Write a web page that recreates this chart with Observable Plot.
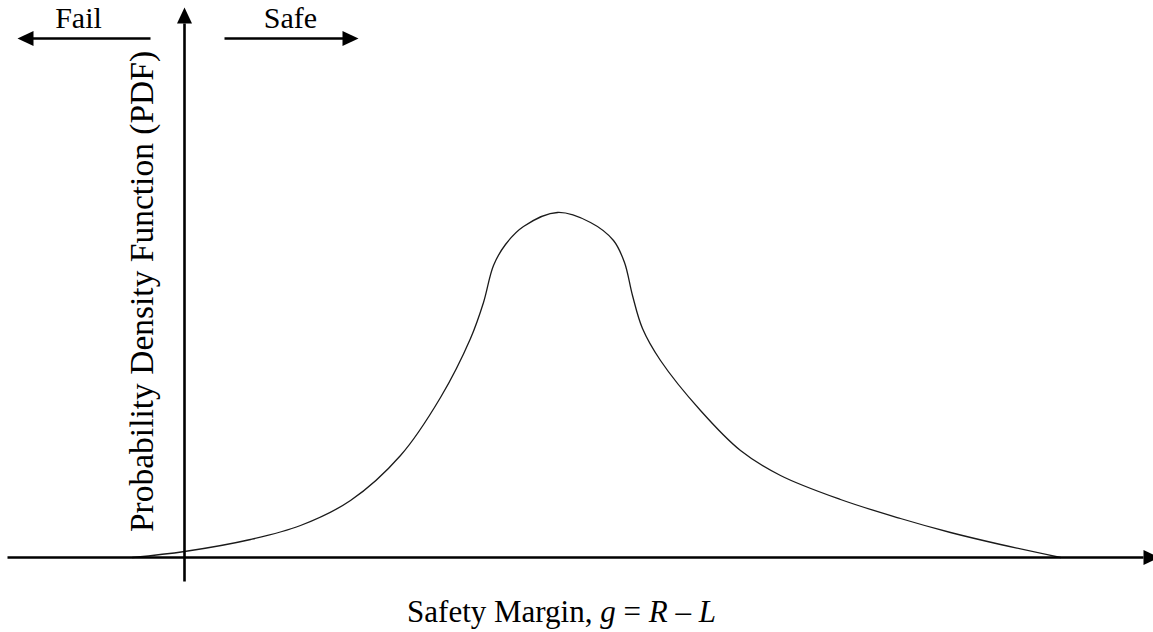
<!DOCTYPE html>
<html>
<head>
<meta charset="utf-8">
<script src="https://cdn.jsdelivr.net/npm/d3@7"></script>
<script src="https://cdn.jsdelivr.net/npm/@observablehq/plot@0.6"></script>
<style>
  body { margin: 0; background: #fff; }
  #wrap { position: relative; width: 1153px; height: 632px; overflow: hidden; }
  #xlabel {
    position: absolute; left: -15px; width: 1153px; top: 596px;
    text-align: center; white-space: pre;
    font-family: "Liberation Serif", "Times New Roman", serif;
    font-size: 31px; line-height: 31px; color: #000;
  }
</style>
</head>
<body>
<div id="wrap"><div id="chart"></div><div id="xlabel">Safety Margin, <i>g</i> = <i>R</i> – <i>L</i></div></div>
<script>
// Safety margin values (arbitrary units) and probability density
const marginG = [-0.52, 0, 0.66, 1.16, 1.66, 2.16, 2.56, 2.86, 2.99, 3.09, 3.21, 3.39, 3.73,
                 4.06, 4.29, 4.40, 4.48, 4.58, 4.76, 5.16, 5.56, 5.96, 6.56, 7.16, 7.66, 8.16, 8.76];
const densityPdf = [0, 0.006, 0.018, 0.032, 0.057, 0.102, 0.160, 0.219, 0.255, 0.292, 0.313, 0.331, 0.345,
                    0.335, 0.317, 0.295, 0.262, 0.229, 0.197, 0.147, 0.107, 0.082, 0.058, 0.039, 0.025, 0.013, 0];

// Axis extents (data units)
const xAxisSpan = [-1.77, 9.59];
const xAxisTip = 9.75;
const yAxisSpan = [-0.024, 0.534];
const yAxisTip = 0.550;

// Fail / Safe direction arrows (data units)
const dirLevel = 0.519;
const failSpan = [-0.34, -1.52];
const failTip = -1.67;
const safeSpan = [0.40, 1.59];
const safeTip = 1.74;

const sideLabels = ["Fail", "Safe"];
const sideLabelX = [-1.06, 1.06];
const sideLabelY = 0.530;
const yLabel = "Probability Density Function (PDF)";
const yLabelPos = [-0.32, 0.266];

const curve = marginG.map((g, i) => ({g, pdf: densityPdf[i]}));
const lines = [
  {x1: xAxisSpan[0], y1: 0, x2: xAxisSpan[1], y2: 0},
  {x1: 0, y1: yAxisSpan[0], x2: 0, y2: yAxisSpan[1]},
  {x1: failSpan[0], y1: dirLevel, x2: failSpan[1], y2: dirLevel},
  {x1: safeSpan[0], y1: dirLevel, x2: safeSpan[1], y2: dirLevel}
];
const heads = [
  {x: xAxisTip, y: 0, rot: 90},
  {x: 0, y: yAxisTip, rot: 0},
  {x: failTip, y: dirLevel, rot: -90},
  {x: safeTip, y: dirLevel, rot: 90}
];
const arrowHead = {
  draw(context) {
    const w = 7.5, l = 16;
    context.moveTo(0, 0);
    context.lineTo(w, l);
    context.lineTo(-w, l);
    context.closePath();
  }
};
const serif = "Liberation Serif, Times New Roman, serif";

const chart = Plot.plot({
  width: 1153,
  height: 590,
  margin: 0,
  x: {domain: [-1.84, 9.69], axis: null},
  y: {domain: [-0.033, 0.557], axis: null},
  marks: [
    Plot.line(curve, {x: "g", y: "pdf", curve: "catmull-rom", stroke: "#1a1a1a", strokeWidth: 1.3}),
    Plot.link(lines, {x1: "x1", y1: "y1", x2: "x2", y2: "y2", stroke: "black", strokeWidth: 2.6}),
    Plot.dot(heads, {x: "x", y: "y", rotate: "rot", symbol: arrowHead, fill: "black", stroke: null, r: 5}),
    Plot.text(sideLabels, {x: (d, i) => sideLabelX[i], y: sideLabelY, text: d => d, fontSize: 30,
      fontFamily: serif, lineAnchor: "bottom", fill: "black"}),
    Plot.text([yLabel], {x: yLabelPos[0], y: yLabelPos[1], text: d => d, rotate: -90, fontSize: 33.5,
      fontFamily: serif, lineAnchor: "bottom", fill: "black"})
  ]
});
document.getElementById("chart").appendChild(chart);
</script>
</body>
</html>
